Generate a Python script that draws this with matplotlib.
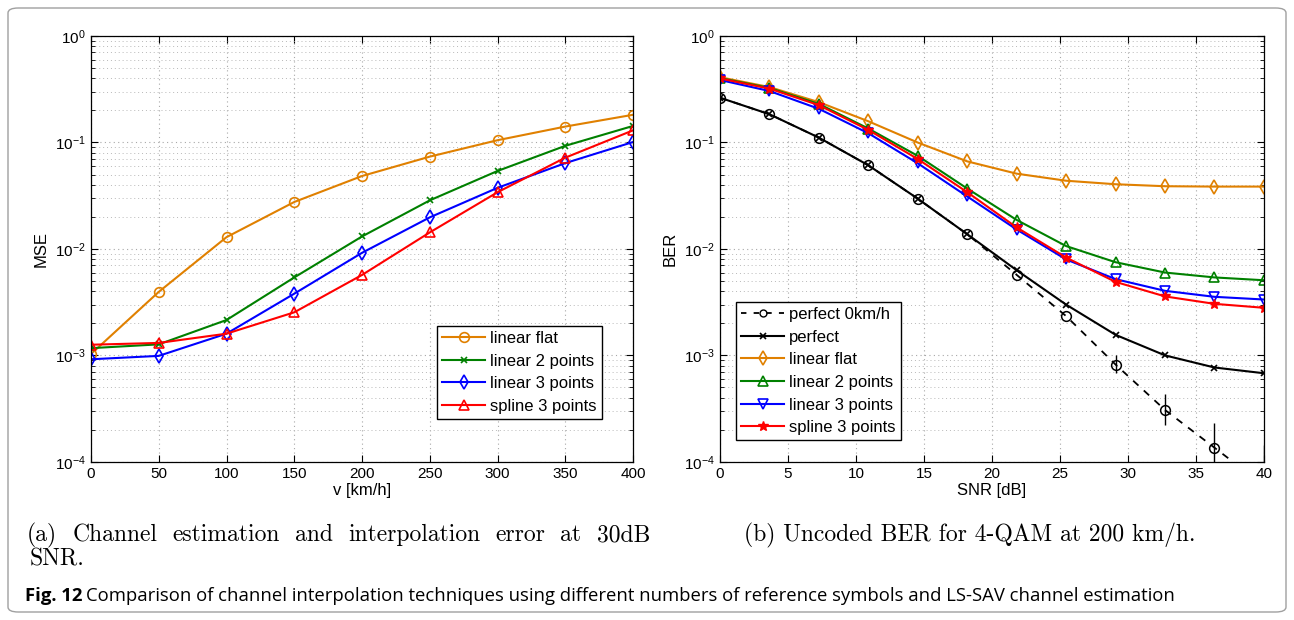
import numpy as np
import matplotlib.pyplot as plt
from matplotlib.patches import FancyBboxPatch

# left panel: MSE vs speed
speed = [0, 50, 100, 150, 200, 250, 300, 350, 400]
mse_flat = [1.03e-3, 3.95e-3, 1.29e-2, 2.76e-2, 4.84e-2, 7.36e-2, 0.105, 0.141, 0.182]
mse_lin2 = [1.17e-3, 1.27e-3, 2.15e-3, 5.4e-3, 1.31e-2, 2.86e-2, 5.4e-2, 9.3e-2, 0.143]
mse_lin3 = [9.2e-4, 9.9e-4, 1.6e-3, 3.8e-3, 9.2e-3, 1.98e-2, 3.75e-2, 6.4e-2, 0.101]
mse_spl3 = [1.26e-3, 1.31e-3, 1.6e-3, 2.54e-3, 5.7e-3, 1.43e-2, 3.41e-2, 7.2e-2, 0.130]

# right panel: BER vs SNR
snr = [0, 3.64, 7.27, 10.91, 14.55, 18.18, 21.82, 25.45, 29.09, 32.73, 36.36, 40]
ber_perf0 = [0.263, 0.184, 0.111, 0.061, 0.0296, 0.01375, 5.7e-3, 2.34e-3, 8.2e-4, 3.07e-4, 1.36e-4, 6.0e-5]
ber_perf0_lo = [None] * 8 + [6.9e-4, 2.2e-4, 5e-5, 5e-5]
ber_perf0_hi = [None] * 8 + [1.0e-3, 4.35e-4, 2.34e-4, 1.44e-4]
ber_perf = [0.263, 0.184, 0.111, 0.061, 0.0296, 0.01375, 6.3e-3, 3.0e-3, 1.56e-3, 1.0e-3, 7.7e-4, 6.8e-4]
ber_flat = [0.41, 0.331, 0.239, 0.158, 0.0997, 0.0664, 0.0509, 0.0437, 0.0405, 0.0388, 0.0385, 0.0385]
ber_lin2 = [0.402, 0.325, 0.23, 0.135, 0.0747, 0.0369, 0.0187, 0.01064, 7.5e-3, 6.0e-3, 5.4e-3, 5.08e-3]
ber_lin3 = [0.386, 0.304, 0.207, 0.122, 0.0636, 0.0311, 0.0152, 7.97e-3, 5.2e-3, 4.04e-3, 3.55e-3, 3.35e-3]
ber_spl3 = [0.399, 0.32, 0.224, 0.131, 0.0698, 0.0341, 0.0159, 8.3e-3, 4.9e-3, 3.58e-3, 3.05e-3, 2.8e-3]

orange = '#e08000'
green = '#008000'
blue = '#0000ff'
red = '#ff0000'

plt.rcParams['font.family'] = ['Liberation Sans', 'DejaVu Sans']
plt.rcParams['font.size'] = 11

W, H = 1294, 620
fig = plt.figure(figsize=(W / 100, H / 100), dpi=100)
ax1 = fig.add_axes([0.0703, 0.255, 0.419, 0.687])
ax2 = fig.add_axes([0.5564, 0.255, 0.4204, 0.687])

mk = dict(markerfacecolor='none', markeredgewidth=1.2, linewidth=1.5)
ax1.plot(speed, mse_flat, color=orange, marker='o', markersize=7, label='linear flat', **mk)
ax1.plot(speed, mse_lin2, color=green, marker='x', markersize=4.5, label='linear 2 points', **mk)
ax1.plot(speed, mse_lin3, color=blue, marker='d', markersize=7, label='linear 3 points', **mk)
ax1.plot(speed, mse_spl3, color=red, marker='^', markersize=7.5, label='spline 3 points', **mk)
ax1.set_xlim(0, 400)
ax1.set_ylim(1e-4, 1)
ax1.set_yscale('log')
ax1.set_xticks(speed)
ax1.set_xlabel('v [km/h]', fontsize=12, labelpad=1)
ax1.set_ylabel('MSE', fontsize=12, labelpad=4)

p0 = [v if v >= 1e-4 else np.nan for v in ber_perf0]
ax2.plot(snr, ber_perf0, color='black', linestyle='--', linewidth=1.3, dashes=(4, 4))
ax2.plot(snr, p0, color='black', linestyle='none', marker='o', markersize=7,
         markerfacecolor='none', markeredgewidth=1.1)
ax2.plot([], [], color='black', linestyle='--', dashes=(3, 4), marker='o', markersize=5,
         markerfacecolor='none', linewidth=1.3, label='perfect 0km/h')
for x, lo, hi in zip(snr, ber_perf0_lo, ber_perf0_hi):
    if lo is not None:
        ax2.vlines(x, lo, hi, color='black', linewidth=1.0)
ax2.plot(snr, ber_perf, color='black', marker='x', markersize=4.5, label='perfect', **mk)
ax2.plot(snr, ber_flat, color=orange, marker='d', markersize=7, label='linear flat', **mk)
ax2.plot(snr, ber_lin2, color=green, marker='^', markersize=7.5, label='linear 2 points', **mk)
ax2.plot(snr, ber_lin3, color=blue, marker='v', markersize=7.5, label='linear 3 points', **mk)
ax2.plot(snr, ber_spl3, color=red, marker='*', markersize=7, markerfacecolor=red,
         markeredgewidth=1.0, linewidth=1.5, label='spline 3 points')
ax2.set_xlim(0, 40)
ax2.set_ylim(1e-4, 1)
ax2.set_yscale('log')
ax2.set_xticks(range(0, 41, 5))
ax2.set_xlabel('SNR [dB]', fontsize=12, labelpad=1)
ax2.set_ylabel('BER', fontsize=12, labelpad=4)

for ax in (ax1, ax2):
    ax.grid(True, which='major', linestyle=(0, (1, 3)), color='#a8a8a8', linewidth=0.8)
    ax.grid(True, which='minor', axis='y', linestyle=(0, (1, 3)), color='#b8b8b8', linewidth=0.7)
    ax.tick_params(which='both', direction='in', top=True, right=True, labelsize=11)
    ax.tick_params(which='major', length=5, pad=4)
    ax.tick_params(which='minor', length=3)
    for spine in ax.spines.values():
        spine.set_linewidth(0.9)

leg_kw = dict(fontsize=12, fancybox=False, edgecolor='black', framealpha=1, handlelength=2.6,
              borderpad=0.3, labelspacing=0.46, handletextpad=0.3, borderaxespad=0)
ax1.legend(loc='upper left', bbox_to_anchor=((437 - 91) / 542, (462 - 326) / 426), **leg_kw)
ax2.legend(loc='upper left', bbox_to_anchor=((736 - 720) / 544, (462 - 302) / 426), **leg_kw)

# captions
cap_kw = dict(fontfamily='cmr10', fontsize=17, va='baseline', ha='left')
fig.canvas.draw()
r = fig.canvas.get_renderer()


def justify(words, x0, x1, y, **kw):
    txts = [fig.text(0, 1 - y / H, w, **kw) for w in words]
    widths = [t.get_window_extent(r).width for t in txts]
    gap = (x1 - x0 - sum(widths)) / (len(words) - 1)
    x = x0
    for t, w in zip(txts, widths):
        t.set_x(x / W)
        x += w + gap


justify('(a) Channel estimation and interpolation error at 30dB'.split(), 27, 650, 541, **cap_kw)
fig.text(30 / W, 1 - 566 / H, 'SNR.', **cap_kw)
fig.text(970 / W, 1 - 541 / H, '(b) Uncoded BER for 4-QAM at 200 km/h.',
         fontfamily='cmr10', fontsize=17, va='baseline', ha='center')
t = fig.text(25 / W, 1 - 601 / H, 'Fig. 12', fontfamily='Open Sans', fontweight='bold',
             fontsize=13.3, va='baseline', ha='left')
bb = t.get_window_extent(r)
fig.text(bb.x1 / W + 0.003, 1 - 601 / H,
         'Comparison of channel interpolation techniques using different numbers of reference symbols and LS-SAV channel estimation',
         fontfamily='Open Sans', fontsize=13.3, va='baseline', ha='left')

border = FancyBboxPatch((8 / W, 8 / H), 1278 / W, 604 / H, transform=fig.transFigure,
                        boxstyle='round,pad=0,rounding_size=0.008', facecolor='none',
                        edgecolor='#a0a0a0', linewidth=1.0)
fig.patches.append(border)

fig.savefig('out.png', dpi=100)
plt.close(fig)
